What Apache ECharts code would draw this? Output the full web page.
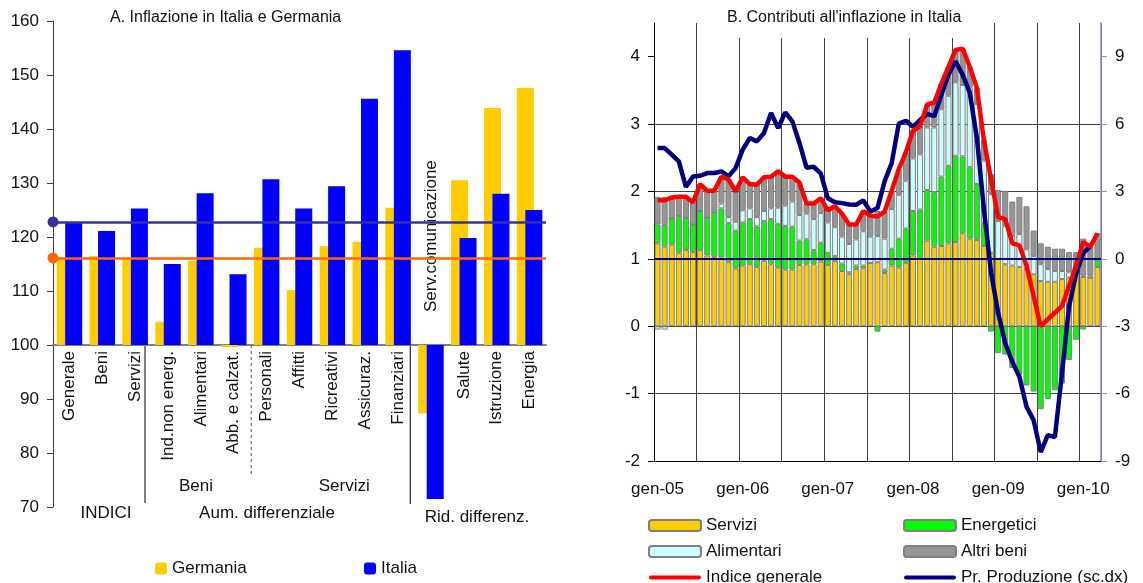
<!DOCTYPE html>
<html>
<head>
<meta charset="utf-8">
<title>Inflazione in Italia e Germania</title>
<script src="https://cdn.jsdelivr.net/npm/echarts@6/dist/echarts.min.js"></script>
<style>
html, body { margin: 0; padding: 0; background: #fff; }
#chart { width: 1143px; height: 583px; }
</style>
</head>
<body>
<div id="chart"></div>
<script>
// ---- Pannello A: indici (base 100)
const voci = ['Generale', 'Beni', 'Servizi', 'Ind.non energ.', 'Alimentari', 'Abb. e calzat.',
  'Personali', 'Affitti', 'Ricreativi', 'Assicuraz.', 'Finanziari', 'Serv.comunicazione',
  'Salute', 'Istruzione', 'Energia'];
const germania = [116.1, 116.5, 115.9, 104.3, 115.6, 99.6, 118.0, 110.2, 118.3, 119.1, 125.4, 87.3, 130.5, 143.9, 147.6];
const italia = [122.8, 121.1, 125.3, 115.0, 128.1, 113.1, 130.7, 125.3, 129.4, 145.6, 154.6, 71.5, 119.8, 128.0, 125.0];
const tickA = [70, 80, 90, 100, 110, 120, 130, 140, 150, 160];

// ---- Pannello B: contributi mensili, gen-05 .. mar-10
const mesiNomi = ['gen', 'feb', 'mar', 'apr', 'mag', 'giu', 'lug', 'ago', 'set', 'ott', 'nov', 'dic'];
const mesi = [];
for (let a = 5; a <= 10; a++) {
  for (let m = 0; m < 12; m++) {
    if (a === 10 && m > 2) break;
    mesi.push(mesiNomi[m] + '-' + String(a).padStart(2, '0'));
  }
}
const servizi = [1.23, 1.18, 1.21, 1.09, 1.13, 1.10, 1.13, 1.05, 1.03, 1.02,
  0.95, 0.86, 0.90, 0.92, 0.88, 0.97, 0.92, 0.87, 0.84, 0.84,
  0.91, 0.92, 0.92, 0.96, 0.91, 0.97, 0.82, 0.77, 0.85, 0.86,
  0.94, 0.95, 0.79, 0.90, 0.87, 0.94, 1.05, 1.00, 1.27, 1.18,
  1.19, 1.23, 1.25, 1.38, 1.30, 1.28, 1.19, 1.09, 1.00, 0.92,
  0.90, 0.88, 0.85, 0.77, 0.67, 0.66, 0.66, 0.70, 0.72, 0.75,
  0.73, 0.72, 0.88];
const energetici = [0.28, 0.32, 0.39, 0.55, 0.48, 0.41, 0.58, 0.56, 0.66, 0.73,
  0.58, 0.56, 0.64, 0.67, 0.60, 0.59, 0.67, 0.65, 0.65, 0.64,
  0.36, 0.37, 0.21, 0.28, 0.18, 0.07, 0.11, 0.03, 0.05, 0.04,
  0.00, -0.08, 0.05, 0.25, 0.43, 0.51, 0.66, 0.73, 0.75, 0.81,
  1.03, 1.15, 1.28, 1.14, 1.06, 0.83, 0.35, -0.08, -0.40, -0.42,
  -0.62, -0.72, -0.88, -0.97, -1.23, -1.08, -0.95, -0.85, -0.50, -0.20,
  -0.05, 0.00, 0.10];
const alimentari = [-0.05, -0.05, 0, 0, 0, 0, 0, 0, 0, 0.07,
  0.09, 0.13, 0.18, 0.16, 0.14, 0.15, 0.16, 0.24, 0.30, 0.37,
  0.38, 0.38, 0.46, 0.44, 0.45, 0.43, 0.40, 0.42, 0.39, 0.51,
  0.39, 0.39, 0.46, 0.59, 0.65, 0.71, 0.78, 0.82, 0.93, 0.96,
  1.00, 1.04, 1.09, 1.06, 1.18, 1.19, 0.92, 0.87, 0.56, 0.57,
  0.44, 0.49, 0.29, 0.27, 0.25, 0.19, 0.16, 0.12, 0.08, 0.05,
  0.02, 0.03, 0.00];
const altriBeni = [0.41, 0.42, 0.31, 0.28, 0.31, 0.33, 0.40, 0.40, 0.32, 0.40,
  0.56, 0.45, 0.49, 0.36, 0.48, 0.50, 0.47, 0.54, 0.43, 0.37,
  0.48, 0.15, 0.23, 0.22, 0.18, 0.31, 0.34, 0.29, 0.22, 0.30,
  0.31, 0.37, 0.40, 0.27, 0.38, 0.42, 0.41, 0.42, 0.34, 0.37,
  0.38, 0.43, 0.48, 0.54, 0.31, 0.24, 0.30, 0.30, 0.46, 0.52,
  0.51, 0.55, 0.64, 0.38, 0.31, 0.33, 0.33, 0.33, 0.30, 0.30,
  0.55, 0.43, 0.40];
const indiceGenerale = [1.87, 1.87, 1.91, 1.92, 1.92, 1.84, 2.11, 2.01, 2.01, 2.22,
  2.18, 2.00, 2.21, 2.11, 2.10, 2.21, 2.22, 2.30, 2.22, 2.22,
  2.13, 1.82, 1.82, 1.90, 1.72, 1.78, 1.67, 1.51, 1.51, 1.71,
  1.64, 1.63, 1.70, 2.01, 2.33, 2.58, 2.90, 2.97, 3.29, 3.32,
  3.60, 3.85, 4.10, 4.12, 3.85, 3.54, 2.76, 2.18, 1.62, 1.59,
  1.23, 1.20, 0.90, 0.45, 0.00, 0.10, 0.20, 0.30, 0.60, 0.90,
  1.25, 1.18, 1.38];
const prezziProduzione = [4.93, 4.93, 4.64, 4.34, 3.20, 3.67, 3.70, 3.82, 3.82, 3.89,
  3.67, 4.04, 4.86, 5.38, 5.23, 5.60, 6.49, 5.82, 6.52, 6.12,
  5.16, 4.06, 4.10, 3.80, 2.70, 2.52, 2.48, 2.42, 2.41, 2.60,
  2.11, 2.26, 3.45, 4.26, 6.02, 6.15, 5.88, 6.18, 6.45, 6.35,
  7.30, 8.20, 8.80, 8.20, 7.40, 5.40, 2.20, -0.60, -2.40, -3.76,
  -4.58, -5.25, -6.58, -7.18, -8.60, -7.85, -7.93, -5.10, -2.12, -0.64,
  0.25, 0.55, null];

const FONT = "'Liberation Sans', Arial, sans-serif";
const NERO = '#111';

const chart = echarts.init(document.getElementById('chart'));

function stileBarra(colore) {
  return { color: colore, borderColor: '#808080', borderWidth: 1 };
}

const legendaTesto = { fontSize: 17, color: NERO, fontFamily: FONT, lineHeight: 17 };
// icona a segmento per le serie a linea
const iconaLinea = 'path://M2,0H50A2,2,0,0,1,50,4H2A2,2,0,0,1,2,0Z';
const voceBarra = n => ({ name: n, itemStyle: { borderWidth: 2, borderColor: '#808080' } });

const option = {
  animation: false,
  textStyle: { fontFamily: FONT, color: NERO },
  title: [
    {
      text: 'A. Inflazione in Italia e Germania',
      left: 110, top: 10, padding: 0,
      textStyle: { fontSize: 16, fontWeight: 'normal', color: NERO, fontFamily: FONT }
    },
    {
      text: "B. Contributi all'inflazione in Italia",
      left: 719, top: 4, padding: [6, 8, 12, 8],
      backgroundColor: '#fff',
      textStyle: { fontSize: 16, fontWeight: 'normal', color: NERO, fontFamily: FONT }
    }
  ],
  legend: [
    { data: ['Germania'], left: 150, top: 555, itemWidth: 12, itemHeight: 12, selectedMode: false, textStyle: legendaTesto },
    { data: ['Italia'], left: 359, top: 555, itemWidth: 12, itemHeight: 12, selectedMode: false, textStyle: legendaTesto },
    {
      data: [voceBarra('Servizi'), voceBarra('Alimentari'), { name: 'Indice generale', icon: iconaLinea }],
      orient: 'vertical', left: 643, top: 512, height: 100, itemGap: 9,
      itemWidth: 52, itemHeight: 11, selectedMode: false, textStyle: legendaTesto
    },
    {
      data: [voceBarra('Energetici'), voceBarra('Altri beni'), { name: 'Pr. Produzione (sc.dx)', icon: iconaLinea }],
      orient: 'vertical', left: 898, top: 512, height: 100, itemGap: 9,
      itemWidth: 52, itemHeight: 11, selectedMode: false, textStyle: legendaTesto
    }
  ],
  grid: [
    { left: 53, right: 597, top: 21, bottom: 76, outerBoundsMode: 'none' },
    { left: 654, right: 42, top: 23, bottom: 122, outerBoundsMode: 'none' },
    // griglia di appoggio: etichette delle voci sotto la linea 100
    { left: 53, right: 597, top: 21, height: 324, outerBoundsMode: 'none' }
  ],
  xAxis: [
    {
      gridIndex: 0, type: 'category', data: voci,
      axisLine: { onZero: true, lineStyle: { color: '#808080', width: 2 } },
      axisTick: { show: false },
      axisLabel: { show: false },
      splitLine: { show: false }
    },
    {
      gridIndex: 1, type: 'category', data: mesi, boundaryGap: true,
      axisLine: { onZero: false, lineStyle: { color: '#000', width: 1 } },
      axisTick: { show: false },
      axisLabel: { interval: 11, margin: 20, fontSize: 17, color: NERO },
      splitLine: { show: true, interval: 5, lineStyle: { color: '#404040', width: 1 } }
    },
    {
      gridIndex: 2, type: 'category', data: voci, position: 'bottom',
      axisLine: { show: false }, axisTick: { show: false },
      axisLabel: {
        interval: 0, rotate: 90, margin: 6, fontSize: 17, color: NERO,
        formatter: v => (v === 'Serv.comunicazione' ? '' : v)
      },
      splitLine: { show: false }
    }
  ],
  yAxis: [
    {
      gridIndex: 0, type: 'value', min: -30, max: 60, interval: 10,
      axisLine: { show: true, lineStyle: { color: '#404040' } },
      axisTick: { show: true, length: 6, lineStyle: { color: '#404040' } },
      axisLabel: {
        fontSize: 17, margin: 14, color: NERO,
        formatter: v => (tickA.indexOf(v + 100) >= 0 ? String(v + 100) : '')
      },
      splitLine: { show: false }
    },
    {
      gridIndex: 1, type: 'value', min: -2, max: 4.5, interval: 1,
      axisLine: { show: true, onZero: false, lineStyle: { color: '#000' } },
      axisTick: { show: true, length: 6, lineStyle: { color: '#000' }, customValues: [-2, -1, 0, 1, 2, 3, 4] },
      axisLabel: { fontSize: 17, margin: 14, color: NERO, showMaxLabel: false,
        formatter: v => (Number.isInteger(v) ? String(v) : '') },
      splitLine: { show: true, showMaxLine: false, lineStyle: { color: '#404040', width: 1 } }
    },
    {
      gridIndex: 1, type: 'value', position: 'right', min: -9, max: 10.5, interval: 3,
      axisLine: { show: true, onZero: false, lineStyle: { color: '#8C8CCC', width: 1.5 } },
      axisTick: { show: true, length: 6, lineStyle: { color: '#8C8CCC' }, customValues: [-9, -6, -3, 0, 3, 6, 9] },
      axisLabel: { fontSize: 17, margin: 14, color: NERO, showMaxLabel: false,
        formatter: v => (Number.isInteger(v) ? String(v) : '') },
      splitLine: { show: false }
    },
    { gridIndex: 2, type: 'value', show: false }
  ],
  series: [
    {
      name: 'Germania', type: 'bar', xAxisIndex: 0, yAxisIndex: 0,
      data: germania.map(v => +(v - 100).toFixed(2)),
      barWidth: 17, barGap: '-50%',
      itemStyle: { color: '#FFCC00' }
    },
    {
      name: 'Italia', type: 'bar', xAxisIndex: 0, yAxisIndex: 0,
      data: italia.map(v => +(v - 100).toFixed(2)),
      barWidth: 17, barGap: '-50%',
      itemStyle: { color: '#0000FF' },
      // linee dei due indici generali
      markLine: {
        silent: true, symbol: ['circle', 'none'], symbolSize: 11,
        label: { show: false },
        data: [
          { yAxis: +(italia[0] - 100).toFixed(2), lineStyle: { color: '#333399', width: 2.5, type: 'solid' }, itemStyle: { color: '#333399' } },
          { yAxis: +(germania[0] - 100).toFixed(2), lineStyle: { color: '#FF6600', width: 2.5, type: 'solid' }, itemStyle: { color: '#FF6600' } }
        ]
      }
    },
    {
      name: 'Servizi', type: 'bar', xAxisIndex: 1, yAxisIndex: 1, stack: 'contrib',
      data: servizi, barCategoryGap: '15%', itemStyle: stileBarra('#FFCC00')
    },
    {
      name: 'Energetici', type: 'bar', xAxisIndex: 1, yAxisIndex: 1, stack: 'contrib',
      data: energetici, barCategoryGap: '15%', itemStyle: stileBarra('#00FF00')
    },
    {
      name: 'Alimentari', type: 'bar', xAxisIndex: 1, yAxisIndex: 1, stack: 'contrib',
      data: alimentari, barCategoryGap: '15%', itemStyle: stileBarra('#CCFFFF')
    },
    {
      name: 'Altri beni', type: 'bar', xAxisIndex: 1, yAxisIndex: 1, stack: 'contrib',
      data: altriBeni, barCategoryGap: '15%', itemStyle: stileBarra('#969696')
    },
    {
      name: 'Pr. Produzione (sc.dx)', type: 'line', xAxisIndex: 1, yAxisIndex: 2,
      data: prezziProduzione, symbol: 'none', z: 3,
      lineStyle: { color: '#000080', width: 4.5 }, itemStyle: { color: '#000080' },
      markLine: {
        silent: true, symbol: 'none', label: { show: false },
        lineStyle: { color: '#000080', width: 2, type: 'solid' },
        data: [{ yAxis: 0 }]
      }
    },
    {
      name: 'Indice generale', type: 'line', xAxisIndex: 1, yAxisIndex: 1,
      data: indiceGenerale, symbol: 'none', z: 4,
      lineStyle: { color: '#FF0000', width: 4.5 }, itemStyle: { color: '#FF0000' }
    }
  ]
};

chart.setOption(option);

// ---- annotazioni del pannello A (separatori e gruppi), posizionate con le scale
const x0 = chart.convertToPixel({ xAxisIndex: 0 }, 0);
const cw = chart.convertToPixel({ xAxisIndex: 0 }, 1) - x0;
const xAt = u => x0 + (u - 0.5) * cw; // u = unita di categoria dal bordo sinistro
const yAt = v => chart.convertToPixel({ yAxisIndex: 0 }, v - 100);
const yBase = yAt(100);
const yFondo = yAt(70);

function testo(t, x, y) {
  return {
    type: 'text', x, y, silent: true,
    style: { text: t, font: '17px ' + FONT, fill: NERO, align: 'center', verticalAlign: 'middle' }
  };
}
function linea(x, y1, y2, dash) {
  return {
    type: 'line', silent: true,
    shape: { x1: x, y1: y1, x2: x, y2: y2 },
    style: { stroke: dash ? '#555' : '#000', lineWidth: 1, lineDash: dash ? [3, 3] : null }
  };
}

chart.setOption({
  graphic: [
    linea(xAt(2.8), yBase, yFondo - 4, false),
    linea(xAt(6.03), yBase, yFondo - 31, true),
    linea(xAt(10.87), yBase, yFondo - 3, false),
    testo('Beni', xAt(4.35), yFondo - 21),
    testo('Servizi', xAt(8.86), yFondo - 21),
    testo('INDICI', xAt(1.61), yFondo + 6),
    testo('Aum. differenziale', xAt(6.51), yFondo + 6),
    testo('Rid. differenz.', xAt(12.9), yFondo + 10),
    {
      type: 'text', silent: true,
      x: chart.convertToPixel({ xAxisIndex: 0 }, 11), y: yBase - 33,
      rotation: Math.PI / 2,
      style: { text: 'Serv.comunicazione', font: '17px ' + FONT, fill: NERO, align: 'left', verticalAlign: 'middle' }
    }
  ]
});
</script>
</body>
</html>
